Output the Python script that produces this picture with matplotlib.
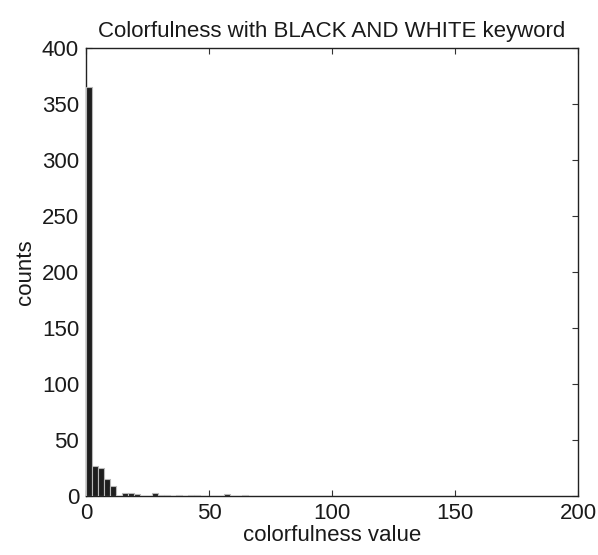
import numpy as np
import matplotlib
matplotlib.use("Agg")
import matplotlib.pyplot as plt

# ------------------------------------------------------------
# dados do histograma (contagens)
# ------------------------------------------------------------
faixa_min = 0
faixa_max = 100
contagens = [365, 27, 25, 15, 9, 0, 3, 3, 2, 0,
             0, 3, 1, 1, 0, 1, 0, 1, 1, 0,
             0, 0, 0, 2, 0, 0, 1, 0, 0, 0,
             0, 0, 0, 0, 0, 0, 0, 0, 0, 0, 0]

x_ticks = [0, 50, 100, 150, 200]
y_ticks = [0, 50, 100, 150, 200, 250, 300, 350, 400]

plt.rcParams["font.family"] = ["Liberation Sans", "DejaVu Sans"]

bordas = np.linspace(faixa_min, faixa_max, len(contagens) + 1)
largura = np.diff(bordas)

fig = plt.figure(figsize=(5.98, 5.55), dpi=100)
ax = fig.add_axes([0.1438, 0.1063, 0.8228, 0.807])

ax.bar(bordas[:-1], contagens, width=largura, align="edge",
       color="#1e1e1e", edgecolor="#b8b8b8", linewidth=0.8, zorder=3)

ax.set_xlim(0, 200)
ax.set_ylim(0, 400)
ax.set_xticks(x_ticks)
ax.set_yticks(y_ticks)
ax.tick_params(direction="in", top=True, right=True, length=4,
               width=0.8, labelsize=16, color="#333333", pad=5,
               labelcolor="#1a1a1a")
for s in ax.spines.values():
    s.set_linewidth(1.0)
    s.set_color("#222222")
    s.set_zorder(2)

ax.set_title("Colorfulness with BLACK AND WHITE keyword", fontsize=16, pad=8,
             color="#1a1a1a")
ax.set_xlabel("colorfulness value", fontsize=16, labelpad=1, color="#1a1a1a")
ax.set_ylabel("counts", fontsize=16, labelpad=4, color="#1a1a1a")

fig.savefig("out.png", dpi=100)
